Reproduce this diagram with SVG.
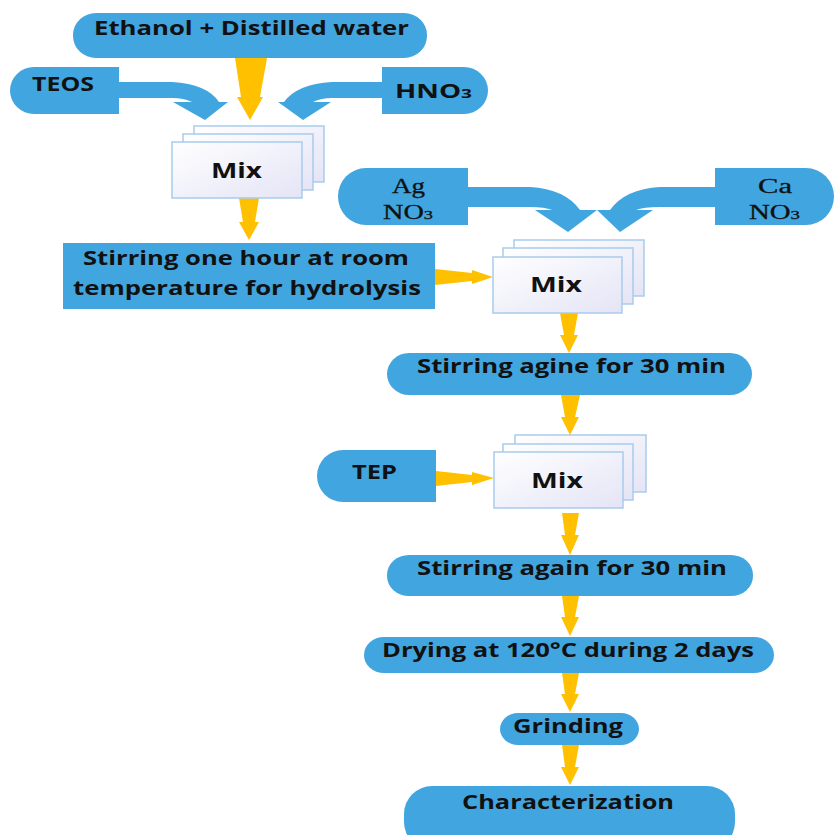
<svg xmlns="http://www.w3.org/2000/svg" width="834" height="835" viewBox="0 0 834 835">
<defs>
<linearGradient id="mixg" x1="0" y1="0" x2="1" y2="1">
<stop offset="0" stop-color="#ffffff"/>
<stop offset="1" stop-color="#e4e4f6"/>
</linearGradient>
<style>
.b{fill:#41a5e0}
.y{fill:#ffc000}
.m{fill:url(#mixg);stroke:#a8cbec;stroke-width:1.5}
.t{font-family:"Open Sans","DejaVu Sans",sans-serif;font-weight:700;font-size:19px;fill:#111}
.mt{font-family:"Open Sans","DejaVu Sans",sans-serif;font-weight:700;font-size:22px;fill:#111}
.s{font-family:"Liberation Serif","Times New Roman",serif;font-size:20px;fill:#111;stroke:#111;stroke-width:0.3}
.sub{font-size:13px}
</style>
</defs>
<rect width="834" height="835" fill="#ffffff"/>

<g id="connectors">
<path class="b" d="M119,82 L172,82 Q207,84 219,102 L228,102 L205,120 L173,102 L192,102 Q184,98 172,98 L119,98 Z"/>
<path class="b" d="M382,82 L332,82 Q297,84 284,102 L278,102 L303,120 L331,102 L313,102 Q321,98 332,98 L382,98 Z"/>
<path class="b" d="M468,187 L530,187 Q565,189 580,210 L597,210 L568,232 L535,210 L552,210 Q545,207 530,207 L468,207 Z"/>
<path class="b" d="M715,187 L660,187 Q625,189 610,210 L597,210 L620,232 L653,210 L636,210 Q643,207 660,207 L715,207 Z"/>
<polygon class="y" points="235,58 267,58 260,97 263,97 250,120 237,97 241,97"/>
<polygon class="y" points="239,198 259,198 255,222 259,222 249,240 239,222 243,222"/>
<polygon class="y" points="435,269 472,273 472,270 493,277 472,284 472,281 435,285"/>
<polygon class="y" points="560,313 578,313 574,335 578,335 569,353 560,335 564,335"/>
<polygon class="y" points="561,395 580,395 575,417 579,417 570,435 561,417 565,417"/>
<polygon class="y" points="436,471 472,475 472,472 494,478 472,485 472,482 436,486"/>
<polygon class="y" points="562,513 579,513 575,535 579,535 570,555 561,535 565,535"/>
<polygon class="y" points="562,596 579,596 575,617 579,617 570,636 561,617 565,617"/>
<polygon class="y" points="562,673 579,673 575,694 579,694 570,712 561,694 565,694"/>
<polygon class="y" points="562,745 579,745 575,767 579,767 570,785 561,767 565,767"/>
</g>

<g id="ethanol">
<rect class="b" x="73" y="13" width="354" height="45" rx="23" ry="22"/>
<text class="t" x="94" y="35" textLength="315" lengthAdjust="spacingAndGlyphs">Ethanol + Distilled water</text>
</g>

<g id="teos">
<path class="b" d="M119,67 L34,67 A24,23.5 0 0 0 34,114 L119,114 Z"/>
<text class="t" x="32" y="91" textLength="62" lengthAdjust="spacingAndGlyphs">TEOS</text>
</g>

<g id="hno3">
<path class="b" d="M382,67 L464,67 A24,23.5 0 0 1 464,114 L382,114 Z"/>
<text class="t" x="395" y="98" textLength="77" lengthAdjust="spacingAndGlyphs">HNO<tspan class="sub">3</tspan></text>
</g>

<g id="mix1">
<rect class="m" x="194" y="126" width="130" height="56"/>
<rect class="m" x="183" y="134" width="130" height="56"/>
<rect class="m" x="172" y="142" width="130" height="56"/>
<text class="mt" x="211" y="178" textLength="51" lengthAdjust="spacingAndGlyphs">Mix</text>
</g>

<g id="stirring1">
<rect class="b" x="63" y="243" width="372" height="66"/>
<text class="t" x="83" y="265" textLength="326" lengthAdjust="spacingAndGlyphs">Stirring one hour at room</text>
<text class="t" x="73" y="295" textLength="348" lengthAdjust="spacingAndGlyphs">temperature for hydrolysis</text>
</g>

<g id="agno3">
<path class="b" d="M468,168 L366,168 A28,28.5 0 0 0 366,225 L468,225 Z"/>
<text class="s" x="392" y="193" textLength="33" lengthAdjust="spacingAndGlyphs">Ag</text>
<text class="s" x="383" y="219" textLength="50" lengthAdjust="spacingAndGlyphs">NO<tspan class="sub">3</tspan></text>
</g>

<g id="cano3">
<path class="b" d="M715,168 L806,168 A28,28.5 0 0 1 806,225 L715,225 Z"/>
<text class="s" x="758" y="193" textLength="34" lengthAdjust="spacingAndGlyphs">Ca</text>
<text class="s" x="749" y="219" textLength="51" lengthAdjust="spacingAndGlyphs">NO<tspan class="sub">3</tspan></text>
</g>

<g id="mix2">
<rect class="m" x="514" y="240" width="130" height="56"/>
<rect class="m" x="503" y="248" width="130" height="56"/>
<rect class="m" x="493" y="257" width="129" height="56"/>
<text class="mt" x="530" y="292" textLength="52" lengthAdjust="spacingAndGlyphs">Mix</text>
</g>

<g id="stirring2">
<rect class="b" x="387" y="353" width="365" height="42" rx="22" ry="21"/>
<text class="t" x="417" y="373" textLength="309" lengthAdjust="spacingAndGlyphs">Stirring agine for 30 min</text>
</g>

<g id="tep">
<path class="b" d="M436,450 L343,450 A26,26 0 0 0 343,502 L436,502 Z"/>
<text class="t" x="352" y="479" textLength="45" lengthAdjust="spacingAndGlyphs">TEP</text>
</g>

<g id="mix3">
<rect class="m" x="515" y="435" width="131" height="57"/>
<rect class="m" x="503" y="444" width="130" height="56"/>
<rect class="m" x="494" y="452" width="129" height="56"/>
<text class="mt" x="531" y="488" textLength="52" lengthAdjust="spacingAndGlyphs">Mix</text>
</g>

<g id="stirring3">
<rect class="b" x="387" y="555" width="366" height="41" rx="22" ry="20"/>
<text class="t" x="417" y="575" textLength="310" lengthAdjust="spacingAndGlyphs">Stirring again for 30 min</text>
</g>

<g id="drying">
<rect class="b" x="364" y="637" width="410" height="36" rx="20" ry="18"/>
<text class="t" x="382" y="657" textLength="372" lengthAdjust="spacingAndGlyphs">Drying at 120°C during 2 days</text>
</g>

<g id="grinding">
<rect class="b" x="500" y="713" width="139" height="32" rx="18" ry="16"/>
<text class="t" x="513" y="733" textLength="110" lengthAdjust="spacingAndGlyphs">Grinding</text>
</g>

<g id="characterization">
<rect class="b" x="404" y="786" width="331" height="64" rx="28" ry="28"/>
<text class="t" x="462" y="809" textLength="212" lengthAdjust="spacingAndGlyphs">Characterization</text>
</g>
</svg>
